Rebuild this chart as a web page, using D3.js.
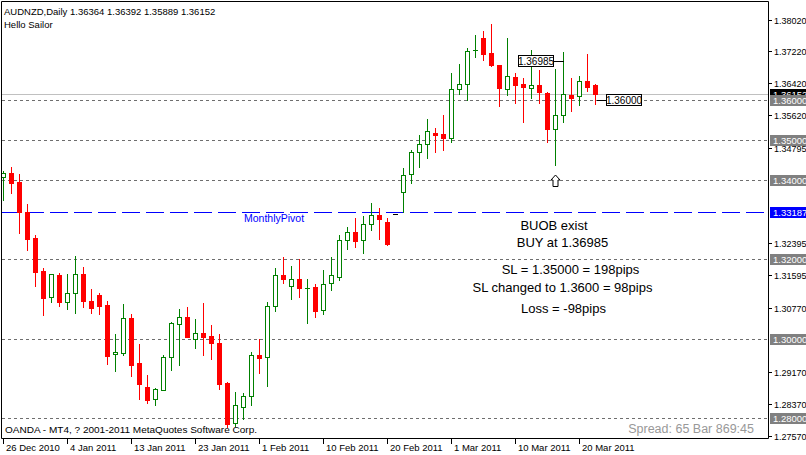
<!DOCTYPE html>
<html>
<head>
<meta charset="utf-8">
<script src="https://cdnjs.cloudflare.com/ajax/libs/d3/7.8.5/d3.min.js"></script>
<style>
	body { margin: 0; background: #fff; }
	svg { display: block; font-family: "Liberation Sans", Arial, sans-serif; }
</style>
</head>
<body>
<svg id="chart" width="806" height="455"></svg>
<script>

// AUDNZD daily bars, 26 Dec 2010 - 22 Mar 2011 (Sunday bars included, no Saturdays)
var dates = [
	'2010-12-26','2010-12-27','2010-12-28','2010-12-29','2010-12-30','2010-12-31',
	'2011-01-02','2011-01-03','2011-01-04','2011-01-05','2011-01-06','2011-01-07',
	'2011-01-09','2011-01-10','2011-01-11','2011-01-12','2011-01-13','2011-01-14',
	'2011-01-16','2011-01-17','2011-01-18','2011-01-19','2011-01-20','2011-01-21',
	'2011-01-23','2011-01-24','2011-01-25','2011-01-26','2011-01-27','2011-01-28',
	'2011-01-30','2011-01-31','2011-02-01','2011-02-02','2011-02-03','2011-02-04',
	'2011-02-06','2011-02-07','2011-02-08','2011-02-09','2011-02-10','2011-02-11',
	'2011-02-13','2011-02-14','2011-02-15','2011-02-16','2011-02-17','2011-02-18',
	'2011-02-20','2011-02-21','2011-02-22','2011-02-23','2011-02-24','2011-02-25',
	'2011-02-27','2011-02-28','2011-03-01','2011-03-02','2011-03-03','2011-03-04',
	'2011-03-06','2011-03-07','2011-03-08','2011-03-09','2011-03-10','2011-03-11',
	'2011-03-13','2011-03-14','2011-03-15','2011-03-16','2011-03-17','2011-03-18',
	'2011-03-20','2011-03-21','2011-03-22'
];
var open = [
	1.34058,1.34159,1.33940,1.33187,1.32534,1.31705,1.31059,1.31604,1.30933,1.31144,
	1.31629,1.30951,1.31102,1.30851,1.29612,1.29652,1.30524,1.29394,1.28791,1.28482,
	1.28723,1.29537,1.30366,1.30549,1.29989,1.30147,1.30072,1.29904,1.28891,1.27879,
	1.28281,1.28565,1.29595,1.29537,1.30825,1.31604,1.31320,1.31496,1.31285,1.31303,
	1.30717,1.31396,1.31546,1.32476,1.32684,1.32476,1.32878,1.33104,1.32936,1.33129,
	1.33681,1.34134,1.34694,1.34887,1.35171,1.35146,1.35053,1.36269,1.36394,1.37256,
	1.37550,1.37173,1.36879,1.36269,1.36585,1.36394,1.36294,1.36372,1.36171,1.35264,
	1.35616,1.36126,1.36093,1.36477,1.36364
];
var high = [
	1.34217,1.34325,1.34141,1.33388,1.32609,1.31780,1.31629,1.31662,1.31629,1.32081,
	1.31813,1.31253,1.31144,1.30951,1.30130,1.30876,1.30625,1.29871,1.29092,1.28758,
	1.29595,1.30424,1.30750,1.30788,1.30499,1.30908,1.30348,1.30122,1.28916,1.28665,
	1.28648,1.29670,1.29997,1.30926,1.31780,1.32064,1.31830,1.32014,1.31496,1.31378,
	1.31730,1.32064,1.32609,1.32802,1.33036,1.33086,1.33405,1.33280,1.33036,1.33129,
	1.34284,1.34744,1.35121,1.35523,1.35289,1.35623,1.36678,1.36897,1.37299,1.37633,
	1.37733,1.37909,1.36880,1.37550,1.36671,1.36545,1.37256,1.36746,1.36188,1.36774,
	1.37193,1.36545,1.36603,1.37150,1.36392
];
var low = [
	1.33488,1.33656,1.32667,1.32232,1.31328,1.30607,1.30926,1.30825,1.30758,1.30657,
	1.30808,1.30657,1.30625,1.29369,1.29200,1.29602,1.29075,1.28482,1.28381,1.28339,
	1.28708,1.29218,1.29351,1.30034,1.29778,1.29595,1.29502,1.28748,1.27794,1.27811,
	1.27995,1.28339,1.29150,1.28823,1.30707,1.31396,1.31009,1.31044,1.30391,1.30557,
	1.30625,1.31227,1.31479,1.32257,1.32315,1.32149,1.32735,1.32516,1.32365,1.33129,
	1.33194,1.33908,1.34325,1.34551,1.34686,1.34752,1.34937,1.36143,1.36000,1.37080,
	1.36997,1.36862,1.35849,1.36126,1.35917,1.35455,1.36038,1.35917,1.34953,1.34355,
	1.35455,1.35716,1.35882,1.36234,1.35889
];
var close = [
	1.34174,1.33908,1.33194,1.32516,1.31687,1.31034,1.31622,1.30933,1.31144,1.31622,
	1.30959,1.30783,1.30833,1.29577,1.29670,1.30517,1.29351,1.28874,1.28472,1.28741,
	1.29537,1.30391,1.30549,1.30041,1.30155,1.30054,1.29889,1.28866,1.27861,1.28331,
	1.28557,1.29587,1.29527,1.30825,1.31597,1.31496,1.31496,1.31270,1.31287,1.30707,
	1.31371,1.31604,1.32476,1.32677,1.32466,1.32878,1.33104,1.33003,1.32390,1.33129,
	1.34124,1.34694,1.34895,1.35214,1.35128,1.35053,1.36269,1.36394,1.37223,1.37258,
	1.37155,1.36867,1.36289,1.36590,1.36364,1.36334,1.36369,1.36188,1.35259,1.35611,
	1.36138,1.36058,1.36472,1.36334,1.36152
];

// price scale labels and chart objects
var yTicks = [1.38020, 1.37220, 1.36420, 1.35620, 1.34795, 1.32395, 1.31595, 1.30770, 1.29170, 1.28370, 1.27570];
var levels = [1.36000, 1.35000, 1.34000, 1.32000, 1.30000, 1.28000];
var pivot = 1.33187;
var bid = 1.36152;
var buyPrice = 1.36985, buyBar = 70;
var stopPrice = 1.36000, stopBar = 74;
var arrowBar = 69;
var notes = [
	{text: 'BUOB exist', cx: 554, y: 229.5},
	{text: 'BUY at 1.36985', cx: 562.5, y: 246.5},
	{text: 'SL = 1.35000 = 198pips', cx: 570.5, y: 274},
	{text: 'SL changed to 1.3600 = 98pips', cx: 562.5, y: 291.5},
	{text: 'Loss = -98pips', cx: 563.5, y: 312.5}
];

var W = 806, H = 455;
var right = 768, bottom = 438;

var x = d3.scaleLinear().domain([0, 95.625]).range([3, 768]);
var y = d3.scaleLinear().domain([1.2756, 1.3846]).range([436, 2]);
var py = function(v){ return Math.round(y(v)); };
var px = function(i){ return Math.round(x(i)); };

var svg = d3.select('#chart');
svg.append('rect').attr('width', W).attr('height', H).attr('fill', '#fff');

svg.append('defs').append('clipPath').attr('id', 'plotclip')
	.append('rect').attr('x', 2).attr('y', 2).attr('width', right - 2).attr('height', bottom - 2);

var plot = svg.append('g').attr('clip-path', 'url(#plotclip)');

// horizontal levels
plot.selectAll('.level').data(levels).enter().append('line')
	.attr('x1', 2).attr('x2', right)
	.attr('y1', function(d){ return py(d) + 0.5; })
	.attr('y2', function(d){ return py(d) + 0.5; })
	.attr('stroke', '#6e6e6e').attr('stroke-dasharray', '3,3');

plot.append('line')
	.attr('x1', 2).attr('x2', right)
	.attr('y1', py(bid) + 0.5).attr('y2', py(bid) + 0.5)
	.attr('stroke', '#c0c0c0');

plot.append('line')
	.attr('x1', 2).attr('x2', right)
	.attr('y1', py(pivot) + 0.5).attr('y2', py(pivot) + 0.5)
	.attr('stroke', '#0000ff').attr('stroke-dasharray', '18,6');

plot.append('text')
	.attr('x', 244).attr('y', py(pivot) + 10)
	.attr('font-size', '10.5px').attr('fill', '#0000ff')
	.text('MonthlyPivot');

// candles
var bars = d3.range(open.length).map(function(i){
	return {i: i, o: open[i], h: high[i], l: low[i], c: close[i]};
});
function colour(d){
	if (d.c > d.o) return '#008000';
	if (d.c < d.o) return '#ff0000';
	return '#000';
}
var g = plot.selectAll('.bar').data(bars).enter().append('g').attr('class', 'bar');
g.append('line')
	.attr('x1', function(d){ return px(d.i) + 0.5; })
	.attr('x2', function(d){ return px(d.i) + 0.5; })
	.attr('y1', function(d){ return py(d.h); })
	.attr('y2', function(d){ return py(d.l) + 1; })
	.attr('stroke', colour);
g.each(function(d){
	var sel = d3.select(this);
	var cx = px(d.i);
	var top = py(Math.max(d.o, d.c)), bot = py(Math.min(d.o, d.c));
	if (bot - top < 1){ //doji
		sel.append('line')
			.attr('x1', cx - 2).attr('x2', cx + 3)
			.attr('y1', top + 0.5).attr('y2', top + 0.5)
			.attr('stroke', colour(d));
	}
	else if (d.c > d.o){
		sel.append('rect')
			.attr('x', cx - 1.5).attr('y', top + 0.5)
			.attr('width', 4).attr('height', bot - top)
			.attr('fill', '#fff').attr('stroke', '#008000');
	}
	else {
		sel.append('rect')
			.attr('x', cx - 2).attr('y', top)
			.attr('width', 5).attr('height', bot - top + 1)
			.attr('fill', '#ff0000');
	}
});

// price label objects
function priceBox(xl, v){
	var yy = py(v);
	plot.append('rect')
		.attr('x', xl + 0.5).attr('y', yy - 5.5)
		.attr('width', 35).attr('height', 11)
		.attr('fill', '#fff').attr('stroke', '#000');
	plot.append('text')
		.attr('x', xl + 18).attr('y', yy + 0.5).attr('dy', '0.35em')
		.attr('text-anchor', 'middle').attr('font-size', '10px')
		.text(d3.format('.5f')(v));
}
var by = py(buyPrice) + 0.5;
plot.append('line').attr('x1', px(buyBar) - 9).attr('x2', px(buyBar) + 1)
	.attr('y1', by).attr('y2', by).attr('stroke', '#000');
priceBox(px(buyBar) - 45, buyPrice);

var sy = py(stopPrice) + 0.5;
plot.append('line').attr('x1', px(stopBar) + 2).attr('x2', px(stopBar) + 11)
	.attr('y1', sy).attr('y2', sy).attr('stroke', '#000');
priceBox(px(stopBar) + 11, stopPrice);

// arrow under the low
var ax = px(arrowBar) + 0.5, ay = py(low[arrowBar]) + 10;
plot.append('path')
	.attr('d', 'M' + ax + ',' + ay + 'l4.5,5h-2v6.5h-5v-6.5h-2z')
	.attr('fill', '#fff').attr('stroke', '#000');

// notes
plot.selectAll('.note').data(notes).enter().append('text')
	.attr('x', function(d){ return d.cx; })
	.attr('y', function(d){ return d.y; })
	.attr('text-anchor', 'middle').attr('font-size', '13px').attr('fill', '#000')
	.text(function(d){ return d.text; });

plot.append('text').attr('x', 4).attr('y', 14.5).attr('font-size', '9.5px')
	.text('AUDNZD,Daily  1.36364 1.36392 1.35889 1.36152');
plot.append('text').attr('x', 4).attr('y', 28).attr('font-size', '9.5px')
	.text('Hello Sailor');
plot.append('text').attr('x', 5).attr('y', 433).attr('font-size', '9.5px')
	.attr('textLength', 252).attr('lengthAdjust', 'spacingAndGlyphs')
	.text('OANDA - MT4, ? 2001-2011 MetaQuotes Software Corp.');
plot.append('text').attr('x', 754).attr('y', 432.5).attr('font-size', '12.5px')
	.attr('text-anchor', 'end').attr('fill', '#999')
	.text('Spread: 65 Bar 869:45');

// frame
svg.append('path')
	.attr('d', 'M1.5,' + (bottom + 0.5) + 'V1.5H' + (right + 0.5) + 'V' + (bottom + 0.5) + 'H1.5')
	.attr('fill', 'none').attr('stroke', '#000');

// price axis
var axisG = svg.append('g');
axisG.selectAll('.tick').data(yTicks).enter().append('line')
	.attr('x1', right + 1).attr('x2', right + 4)
	.attr('y1', function(d){ return py(d) + 0.5; })
	.attr('y2', function(d){ return py(d) + 0.5; })
	.attr('stroke', '#000');
axisG.selectAll('.ticklabel').data(yTicks).enter().append('text')
	.attr('x', 774).attr('y', function(d){ return py(d) + 0.5; })
	.attr('dy', '0.35em').attr('font-size', '9px')
	.text(function(d){ return d3.format('.5f')(d); });

function axisBox(v, fill){
	var yy = py(v);
	axisG.append('rect')
		.attr('x', 770).attr('y', yy - 5).attr('width', 36).attr('height', 11)
		.attr('fill', fill);
	axisG.append('text')
		.attr('x', 773).attr('y', yy + 0.5).attr('dy', '0.35em')
		.attr('font-size', '9.5px').attr('fill', '#fff')
		.text(d3.format('.5f')(v));
}
axisBox(bid, '#000');
levels.forEach(function(v){ axisBox(v, '#808080'); });
axisBox(pivot, '#0000ff');

// time axis
var parse = d3.timeParse('%Y-%m-%d');
var fmt = d3.timeFormat('%-d %b %Y');
var tickBars = d3.range(0, dates.length, 8);
var timeG = svg.append('g');
timeG.selectAll('line').data(tickBars).enter().append('line')
	.attr('x1', function(d){ return px(d) + 0.5; })
	.attr('x2', function(d){ return px(d) + 0.5; })
	.attr('y1', bottom + 1).attr('y2', bottom + 6)
	.attr('stroke', '#000');
timeG.selectAll('text').data(tickBars).enter().append('text')
	.attr('x', function(d){ return px(d) + 3; })
	.attr('y', 451).attr('font-size', '9.5px')
	.text(function(d){ return fmt(parse(dates[d])); });

</script>
</body>
</html>
